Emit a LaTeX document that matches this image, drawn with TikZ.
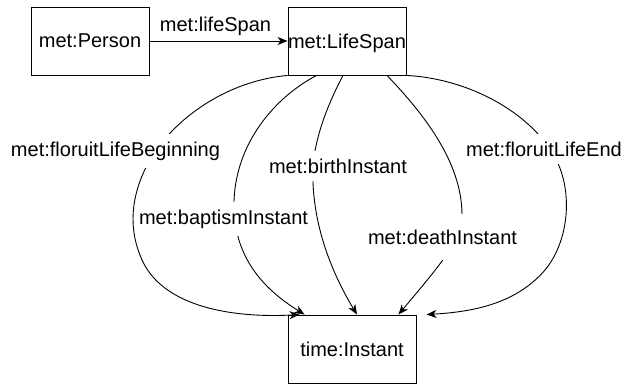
\documentclass[tikz,border=0pt]{standalone}
\usepackage{fontspec}
\setmainfont{Liberation Sans}
\usepackage{tikz}
\usetikzlibrary{arrows.meta}
\newcommand{\lblfont}{\fontsize{20}{24}\selectfont}

\begin{document}
\begin{tikzpicture}[x=1pt, y=-1pt, line width=0.9pt,
  box/.style={draw, minimum width=118pt, minimum height=68pt, inner sep=0pt, text depth=0pt, font=\lblfont},
  lbl/.style={inner xsep=2pt, inner ysep=8pt, font=\lblfont},
  cut/.style={lbl, fill=white},
  link/.style={-{Stealth[length=10pt, width=8pt, inset=3pt]}}]
  \useasboundingbox (0,0) rectangle (624,386);

  % Classes
  \node[box] (person) at (90,41) {met:Person};
  \node[box] (span) at (347,41) {met:LifeSpan};
  \node[box, minimum width=128pt] (instant) at (352,349) {time:Instant};

  % Person to life span
  \draw[link] (person) -- (span);
  \node[lbl, anchor=base] (lifespan) at (215.5,31) {met:lifeSpan};

  % Life span to instants
  \draw[link] (span.south west) .. controls (235,80) and (185,110) .. (157,149)
    .. controls (138,176) and (124,215) .. (140,255)
    .. controls (160,310) and (240,318) .. ([xshift=12pt]instant.north west);
  \draw[link] ([xshift=29pt]span.south west) .. controls (270,100) and (232,150) .. (234,210)
    .. controls (236,260) and (265,290) .. ([xshift=17pt]instant.north west);
  \draw[link] ([xshift=-4pt]span.south) .. controls (330,100) and (315,135) .. (313,167)
    .. controls (311,220) and (330,270) .. ([xshift=5pt]instant.north);
  \draw[link] ([xshift=40pt]span.south) .. controls (420,110) and (462,160) .. (462,215)
    .. controls (462,240) and (440,265) .. ([xshift=-18pt]instant.north east);
  \draw[link] (span.south east) .. controls (460,78) and (520,105) .. (550,149)
    .. controls (575,185) and (570,240) .. (545,270)
    .. controls (515,305) and (470,312) .. ([xshift=10pt]instant.north east);

  % Property labels
  \node[cut, anchor=base] (beginning) at (115.5,156) {met:floruitLifeBeginning};
  \node[cut, anchor=base] (baptism) at (223.5,224) {met:baptismInstant};
  \node[cut, anchor=base] (birth) at (338,173) {met:birthInstant};
  \node[cut, anchor=base, inner ysep=16pt] (death) at (442.5,244) {met:deathInstant};
  \node[cut, anchor=base] (ending) at (544,156) {met:floruitLifeEnd};
\end{tikzpicture}
\end{document}
